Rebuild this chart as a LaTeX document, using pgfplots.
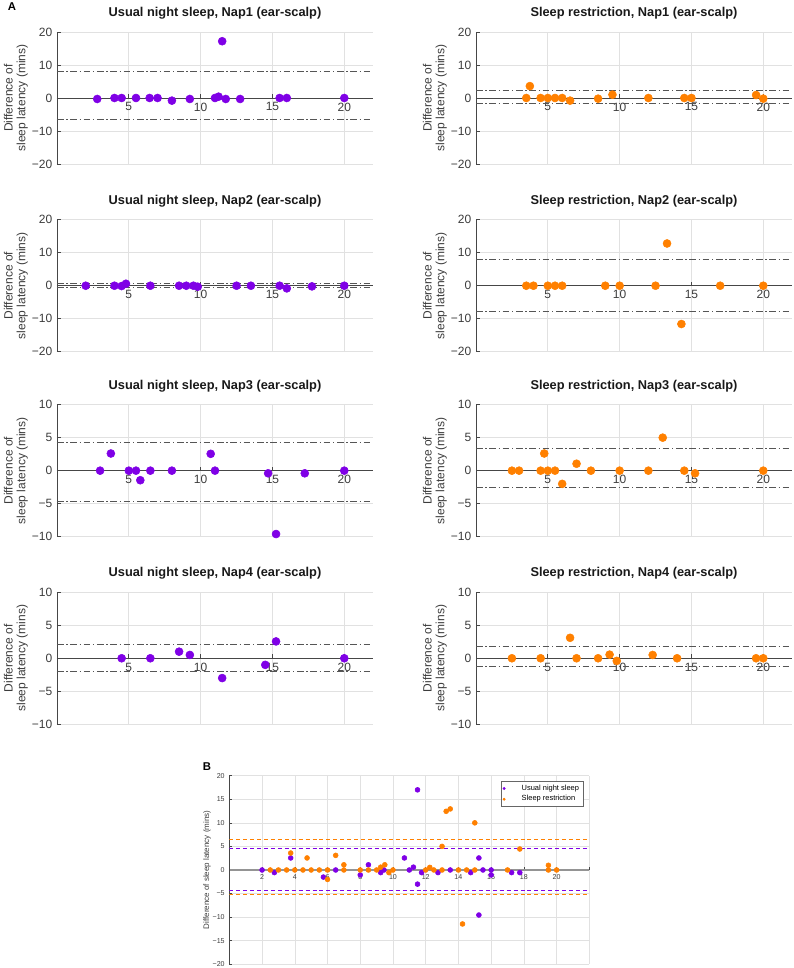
\documentclass[border=0pt]{standalone}
\usepackage{pgfplots}
\pgfplotsset{compat=1.18}
\usepackage{fontspec}
\setmainfont{Liberation Sans}
\definecolor{purp}{RGB}{127,0,230}
\definecolor{orng}{RGB}{255,128,0}
\definecolor{txtgray}{RGB}{60,60,60}
\definecolor{axgray}{RGB}{70,70,70}
\definecolor{gridgray}{RGB}{225,225,225}
\definecolor{loagray}{RGB}{85,85,85}

\pgfplotsset{
  Apanel/.style={
    anchor=south west,
    scale only axis, width=237pt, height=99pt,
    xmin=0, xmax=22,
    axis x line=middle, axis y line=left,
    axis line style={-, draw=axgray, line width=0.6pt},
    xtick={5,10,15,20},
    hide obscured x ticks=false, hide obscured y ticks=false,
    grid=major, major grid style={draw=gridgray, line width=0.5pt},
    tick align=inside, major tick length=3pt,
    tick style={draw=axgray, line width=0.5pt},
    ticklabel style={font=\fontsize{9}{10}\selectfont, text=txtgray},
    /pgf/number format/assume math mode=true,
    title style={font=\fontsize{9.6}{11}\selectfont\bfseries, text=black!90, at={(0.5,1)}, anchor=base, yshift=5.6pt},
    ylabel={Difference of\\sleep latency (mins)},
    ylabel style={at={(axis description cs:-0.13,0.5)}, anchor=center, align=center, font=\fontsize{9}{9.6}\selectfont, text=txtgray},
  },
  Abig/.style={ymin=-20, ymax=20, ytick={-20,-10,0,10,20}, yticklabels={−20,−10,0,10,20}},
  Asmall/.style={ymin=-10, ymax=10, ytick={-10,-5,0,5,10}, yticklabels={−10,−5,0,5,10}},
  ptsP/.style={only marks, mark=*, mark size=3pt, color=purp, mark options={draw=purp, fill=purp}},
  ptsO/.style={only marks, mark=*, mark size=3pt, color=orng, mark options={draw=orng, fill=orng}},
  loa/.style={loagray, line width=0.7pt, dash pattern=on 5pt off 2pt on 1pt off 2pt, forget plot},
}

\begin{document}
\begin{tikzpicture}
\path[use as bounding box] (0,0) rectangle (594.75pt,726pt);

% Row 1
\begin{axis}[Apanel, Abig, at={(42.75pt,603pt)}, title={Usual night sleep, Nap1 (ear-scalp)}]
\addplot[loa] coordinates {(0,7.9) (22,7.9)};
\addplot[loa] coordinates {(0,-6.4) (22,-6.4)};
\addplot[ptsP] coordinates {(2.8,-0.3)(4,0)(4.5,0)(5.5,0)(6.45,0)(7,0)(8,-0.8)(9.25,-0.3)(11,0)(11.25,0.4)(11.5,17.2)(11.75,-0.3)(12.75,-0.3)(15.5,0)(16,0)(20,0)};
\end{axis}
\begin{axis}[Apanel, Abig, at={(357pt,603pt)}, title={Sleep restriction, Nap1 (ear-scalp)}]
\addplot[loa] coordinates {(0,2.4) (22,2.4)};
\addplot[loa] coordinates {(0,-1.6) (22,-1.6)};
\addplot[ptsO] coordinates {(3.5,0)(3.75,3.6)(4.5,0)(5,0)(5.5,0)(6,0)(6.55,-0.8)(8.5,-0.2)(9.5,1.0)(12,0)(14.5,0)(15,0)(19.5,0.9)(20,-0.2)};
\end{axis}

% Row 2
\begin{axis}[Apanel, Abig, at={(42.75pt,462.2pt)}, title={Usual night sleep, Nap2 (ear-scalp)}]
\addplot[loa] coordinates {(0,0.55) (22,0.55)};
\addplot[loa] coordinates {(0,-0.5) (22,-0.5)};
\addplot[ptsP] coordinates {(2,0)(4,0)(4.5,-0.1)(4.8,0.6)(6.5,0)(8.5,0)(9,0)(9.5,0)(9.8,-0.3)(12.5,0)(13.5,0)(15.5,0)(16,-0.8)(17.75,-0.2)(20,0)};
\end{axis}
\begin{axis}[Apanel, Abig, at={(357pt,462.2pt)}, title={Sleep restriction, Nap2 (ear-scalp)}]
\addplot[loa] coordinates {(0,8.0) (22,8.0)};
\addplot[loa] coordinates {(0,-7.7) (22,-7.7)};
\addplot[ptsO] coordinates {(3.5,0)(4,0)(5,0)(5.5,0)(6,0)(9,0)(10,0)(12.5,0)(13.3,12.8)(14.3,-11.6)(17,0)(20,0)};
\end{axis}

% Row 3
\begin{axis}[Apanel, Asmall, at={(42.75pt,323.5pt)}, title={Usual night sleep, Nap3 (ear-scalp)}]
\addplot[loa] coordinates {(0,4.2) (22,4.2)};
\addplot[loa] coordinates {(0,-4.7) (22,-4.7)};
\addplot[ptsP] coordinates {(3,0)(3.75,2.6)(5,0)(5.5,0)(5.8,-1.45)(6.5,0)(8,0)(10.7,2.55)(11,0)(14.7,-0.4)(15.25,-9.6)(17.25,-0.4)(20,0)};
\end{axis}
\begin{axis}[Apanel, Asmall, at={(357pt,323.5pt)}, title={Sleep restriction, Nap3 (ear-scalp)}]
\addplot[loa] coordinates {(0,3.3) (22,3.3)};
\addplot[loa] coordinates {(0,-2.5) (22,-2.5)};
\addplot[ptsO] coordinates {(2.5,0)(3,0)(4.5,0)(4.75,2.6)(5,0)(5.5,0)(6,-2)(7,1.05)(8,0)(10,0)(12,0)(13,5)(14.5,0)(15.25,-0.4)(20,0)};
\end{axis}

% Row 4
\begin{axis}[Apanel, Asmall, at={(42.75pt,182.8pt)}, title={Usual night sleep, Nap4 (ear-scalp)}]
\addplot[loa] coordinates {(0,2.15) (22,2.15)};
\addplot[loa] coordinates {(0,-2.05) (22,-2.05)};
\addplot[ptsP] coordinates {(4.5,0)(6.5,0)(8.5,1)(9.25,0.5)(11.5,-3)(14.5,-1)(15.25,2.55)(20,0)};
\end{axis}
\begin{axis}[Apanel, Asmall, at={(357pt,182.8pt)}, title={Sleep restriction, Nap4 (ear-scalp)}]
\addplot[loa] coordinates {(0,1.8) (22,1.8)};
\addplot[loa] coordinates {(0,-1.3) (22,-1.3)};
\addplot[ptsO] coordinates {(2.5,0)(4.5,0)(6.55,3.1)(7,0)(8.5,0)(9.3,0.55)(9.8,-0.4)(12.3,0.5)(14,0)(19.5,0)(20,0)};
\end{axis}

% Panel B
\begin{axis}[
  at={(172pt,2.78pt)}, anchor=south west,
  scale only axis, width=270pt, height=141.45pt,
  xmin=0, xmax=22, ymin=-20, ymax=20,
  axis x line=middle, axis y line=left,
  x axis line style={-, draw=black!42, line width=0.9pt},
  y axis line style={-, draw=axgray, line width=0.5pt},
  xtick={2,4,...,20}, extra x ticks={22}, extra x tick labels={},
  ytick={-20,-15,...,20}, yticklabels={−20,−15,−10,−5,0,5,10,15,20},
  hide obscured x ticks=false, hide obscured y ticks=false,
  grid=major, major grid style={draw=gridgray, line width=0.4pt},
  tick align=inside, major tick length=2pt,
  tick style={draw=axgray, line width=0.4pt},
  ticklabel style={font=\fontsize{5.3}{6}\selectfont, text=txtgray},
  /pgf/number format/assume math mode=true,
  ylabel={Difference of sleep latency (mins)},
  ylabel style={at={(axis description cs:-0.062,0.5)}, anchor=center, font=\fontsize{6}{7}\selectfont, text=txtgray},
  legend style={at={(0.985,0.973)}, anchor=north east, font=\fontsize{5.6}{6.5}\selectfont, draw=black!60, fill=white, inner xsep=1.5pt, inner ysep=0.8pt, row sep=-1.5pt, cells={anchor=west}},
  legend image code/.code={\node[inner sep=0pt, minimum width=11pt, minimum height=1pt, draw=none, fill=none] at (5.5pt,0pt) {}; \draw[#1, only marks, mark size=0.9pt] plot coordinates {(5.5pt,0pt)};},
]
\addplot[only marks, mark=*, mark size=1.85pt, color=purp, mark options={draw=purp, fill=purp}] coordinates {(2,0)(2.75,-0.55)(3.75,2.55)(5.75,-1.5)(6.5,0)(8,-1.05)(8.5,1.1)(9.25,-0.55)(9.45,0)(10.7,2.55)(11,0)(11.25,0.6)(11.5,17)(11.5,-3)(11.75,-0.55)(12.75,-0.55)(13.5,0)(14.75,-0.55)(15.25,2.55)(15.25,-9.55)(15.5,0)(16,0)(16,-1.05)(17.25,-0.55)(17.75,-0.55)};
\addlegendentry{Usual night sleep}
\addplot[only marks, mark=*, mark size=1.85pt, color=orng, mark options={draw=orng, fill=orng}] coordinates {(2.5,0)(3,0)(3.5,0)(3.75,3.6)(4,0)(4.5,0)(4.75,2.55)(5,0)(5.5,0)(6,0)(6,-2)(6.5,3.1)(7,1.1)(7,0)(8,0)(8.5,0)(9,0)(9.25,0.6)(9.5,1.1)(9.75,-0.55)(10,0)(12,0)(12.25,0.55)(12.5,0)(13,5)(13,0)(13.25,12.45)(13.5,12.95)(14,0)(14.25,-11.45)(14.5,0)(15,10)(15,0)(17,0)(17.75,4.45)(19.5,1)(19.5,0)(20,0)};
\addlegendentry{Sleep restriction}
\addplot[purp, line width=0.8pt, dash pattern=on 3pt off 2.2pt, forget plot] coordinates {(0,4.55) (22,4.55)};
\addplot[purp, line width=0.8pt, dash pattern=on 3pt off 2.2pt, forget plot] coordinates {(0,-4.3) (22,-4.3)};
\addplot[orng, line width=0.8pt, dash pattern=on 3pt off 2.2pt, forget plot] coordinates {(0,6.55) (22,6.55)};
\addplot[orng, line width=0.8pt, dash pattern=on 3pt off 2.2pt, forget plot] coordinates {(0,-5.15) (22,-5.15)};
\end{axis}

\node[font=\fontsize{8.5}{9}\selectfont\bfseries] at (9pt,721pt) {A};
\node[font=\fontsize{8.5}{9}\selectfont\bfseries] at (155.25pt,151pt) {B};
\end{tikzpicture}
\end{document}
